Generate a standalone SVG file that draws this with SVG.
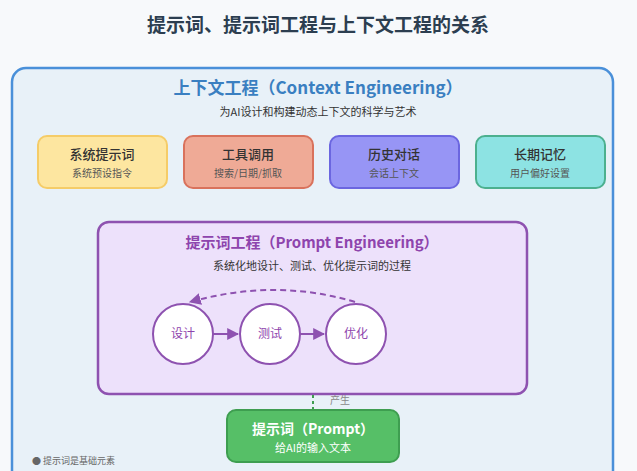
<svg xmlns="http://www.w3.org/2000/svg" width="637" height="471" viewBox="0 0 637 471">
<defs>
<style>
text{font-family:"Noto Sans CJK SC","Liberation Sans",sans-serif;text-anchor:middle}
.t{font-size:13px;font-weight:500;fill:#333}
.s{font-size:10px;fill:#555}
.c{fill:#fff;stroke:#8e52b0;stroke-width:2}
.ct{font-size:12px;fill:#8e44ad}
</style>
<marker id="ap" viewBox="0 0 10 10" refX="9" refY="5" markerWidth="6" markerHeight="6" orient="auto"><path d="M0,0L10,5L0,10z" fill="#8e52b0"/></marker>
</defs>
<rect width="637" height="471" fill="#f7f9fb"/>
<text x="318" y="32" style="font-size:19px;font-weight:bold;fill:#2c3e50">提示词、提示词工程与上下文工程的关系</text>
<g id="context">
<rect x="12" y="68" width="601" height="420" rx="14" fill="#e8f1f8" stroke="#4a90d9" stroke-width="2.5"/>
<text x="318" y="94" style="font-size:17px;font-weight:bold;fill:#3a7fc1">上下文工程（Context Engineering）</text>
<text x="318" y="116" style="font-size:11px;fill:#333">为AI设计和构建动态上下文的科学与艺术</text>
</g>
<g id="sys"><rect x="38" y="136" width="129" height="52" rx="9" fill="#fde6a0" stroke="#f5cc68" stroke-width="2"/><text class="t" x="102" y="159">系统提示词</text><text class="s" x="102" y="177">系统预设指令</text></g>
<g id="tool"><rect x="184" y="136" width="129" height="52" rx="9" fill="#efaa96" stroke="#d9725c" stroke-width="2"/><text class="t" x="248" y="159">工具调用</text><text class="s" x="248" y="177">搜索/日期/抓取</text></g>
<g id="hist"><rect x="330" y="136" width="129" height="52" rx="9" fill="#9795f5" stroke="#6b66e0" stroke-width="2"/><text class="t" x="394" y="159">历史对话</text><text class="s" x="394" y="177">会话上下文</text></g>
<g id="mem"><rect x="476" y="136" width="129" height="52" rx="9" fill="#8de3e3" stroke="#4cb08f" stroke-width="2"/><text class="t" x="540" y="159">长期记忆</text><text class="s" x="540" y="177">用户偏好设置</text></g>
<g id="pe">
<rect x="98" y="222" width="429" height="172" rx="11" fill="#ede1fb" stroke="#8e52b0" stroke-width="2.5"/>
<text x="312" y="248" style="font-size:15px;font-weight:bold;fill:#8e44ad">提示词工程（Prompt Engineering）</text>
<text x="312" y="270" style="font-size:11px;fill:#333">系统化地设计、测试、优化提示词的过程</text>
</g>
<g id="design"><circle class="c" cx="183" cy="334" r="30"/><text class="ct" x="183" y="338">设计</text></g>
<g id="test"><circle class="c" cx="270" cy="334" r="30"/><text class="ct" x="270" y="338">测试</text></g>
<g id="opt"><circle class="c" cx="356" cy="334" r="30"/><text class="ct" x="356" y="338">优化</text></g>
<g id="prompt"><rect x="227" y="410" width="172" height="52" rx="9" fill="#56bf67" stroke="#3e9e50" stroke-width="2"/><text x="313" y="434" style="font-size:14px;font-weight:bold;fill:#fff">提示词（Prompt）</text><text x="313" y="452" style="font-size:11px;fill:#fff">给AI的输入文本</text></g>
<g id="connectors" fill="none">
<path d="M213,334H238" stroke="#8e52b0" stroke-width="2" marker-end="url(#ap)"/>
<path d="M300,334H324" stroke="#8e52b0" stroke-width="2" marker-end="url(#ap)"/>
<path d="M355,302Q275,278 190,302" stroke="#8e52b0" stroke-width="2" stroke-dasharray="6,4" marker-end="url(#ap)"/>
<path d="M313,395V410" stroke="#3e9e50" stroke-width="2" stroke-dasharray="3,3"/>
<text x="340" y="404" style="font-size:10px;fill:#888">产生</text>
</g>
<text x="32" y="464" style="font-size:9px;fill:#666;text-anchor:start">● 提示词是基础元素</text>
</svg>
